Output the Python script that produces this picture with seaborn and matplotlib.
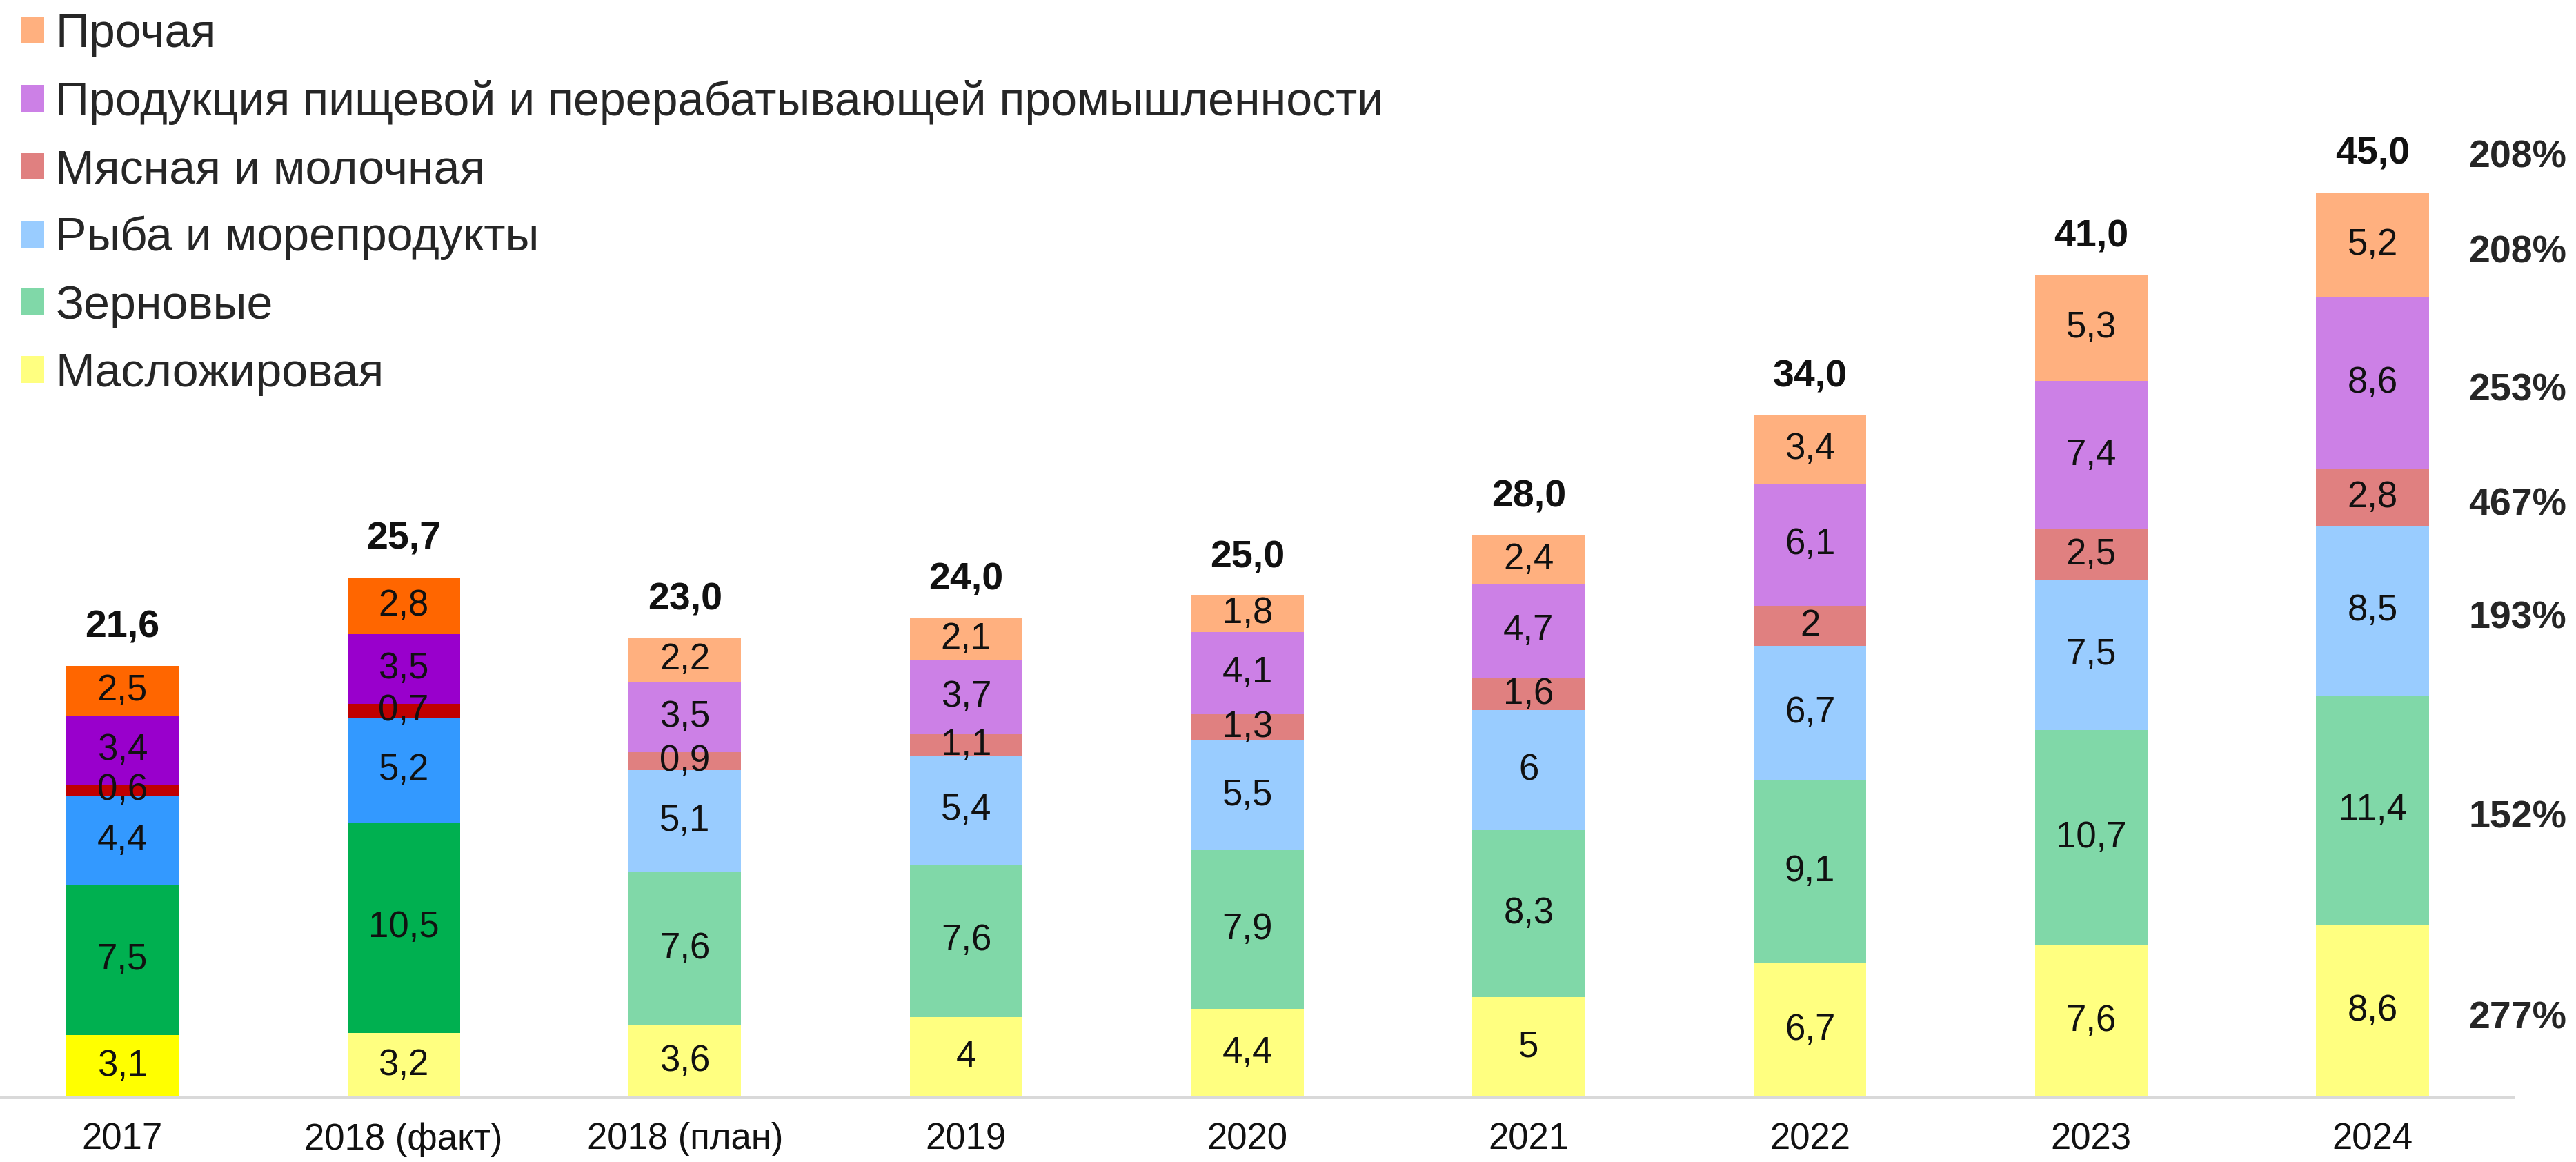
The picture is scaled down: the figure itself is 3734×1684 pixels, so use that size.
import numpy as np
import matplotlib
matplotlib.use("Agg")
import matplotlib.pyplot as plt
import seaborn as sns
from matplotlib.patches import Patch

# данные (млрд долл.)
years = ["2017", "2018 (факт)", "2018 (план)", "2019", "2020", "2021", "2022", "2023", "2024"]
series_names = ["Масложировая", "Зерновые", "Рыба и морепродукты", "Мясная и молочная",
                "Продукция пищевой и перерабатывающей промышленности", "Прочая"]
maslo = [3.1, 3.2, 3.6, 4, 4.4, 5, 6.7, 7.6, 8.6]
zerno = [7.5, 10.5, 7.6, 7.6, 7.9, 8.3, 9.1, 10.7, 11.4]
ryba = [4.4, 5.2, 5.1, 5.4, 5.5, 6, 6.7, 7.5, 8.5]
myaso = [0.6, 0.7, 0.9, 1.1, 1.3, 1.6, 2, 2.5, 2.8]
pischevaya = [3.4, 3.5, 3.5, 3.7, 4.1, 4.7, 6.1, 7.4, 8.6]
prochaya = [2.5, 2.8, 2.2, 2.1, 1.8, 2.4, 3.4, 5.3, 5.2]
totals = [21.6, 25.7, 23.0, 24.0, 25.0, 28.0, 34.0, 41.0, 45.0]
growth = ["277%", "152%", "193%", "467%", "253%", "208%"]
growth_total = "208%"

series_values = [maslo, zerno, ryba, myaso, pischevaya, prochaya]

# цвета: пастельные (план) и яркие (факт)
pastel = ["#FFFF80", "#80D8A8", "#99CCFF", "#E08080", "#CC80E6", "#FFB07F"]
bright = ["#FFFF00", "#00B050", "#3399FF", "#C00000", "#9900CC", "#FF6600"]
bright_idx = [[0], [0, 1], [0, 1], [0, 1], [0, 1], [0, 1]]

sns.set_theme(style="white")
plt.rcParams['font.family'] = ['Liberation Sans', 'DejaVu Sans']

fig = plt.figure(figsize=(37.34, 16.84), dpi=100)
ax = fig.add_axes([0.0, 0.0558, 0.9756, 0.9442])

fmt = lambda v: f"{v:g}".replace(".", ",")

bottom = np.zeros(len(years))
mids_last = []
for j, vals in enumerate(series_values):
    vals = np.array(vals, dtype=float)
    sns.barplot(x=years, y=vals, bottom=bottom, color=pastel[j], width=0.4,
                saturation=1, errorbar=None, ax=ax)
    bars = ax.containers[-1]
    for i, patch in enumerate(bars):
        if i in bright_idx[j]:
            patch.set_facecolor(bright[j])
        patch.set_edgecolor("none")
        ax.text(i, bottom[i] + vals[i] / 2, fmt(vals[i]), ha='center', va='center',
                fontsize=38, color='#111111')
    mids_last.append(bottom[-1] + vals[-1] / 2)
    bottom += vals

# итоги над столбцами
for i, t in enumerate(totals):
    ax.text(i, bottom[i] + 1.9, f"{t:.1f}".replace(".", ","), ha='center', va='center',
            fontsize=40, fontweight='bold', color='#111111')

# прирост справа
xr = 8.69
for j, g in enumerate(growth):
    ax.text(xr, mids_last[j] - 0.4, g, ha='right', va='center', fontsize=40,
            fontweight='bold', clip_on=False)
ax.text(xr, bottom[-1] + 1.75, growth_total, ha='right', va='center', fontsize=40,
        fontweight='bold', clip_on=False)

ax.set_xlim(-0.435, 8.50)
ax.set_ylim(0, 54.7)
ax.set_yticks([])
ax.set_xlabel("")
ax.set_ylabel("")
ax.tick_params(axis='x', length=0, pad=26, labelsize=38, colors='#111111')
for s in ["left", "top", "right"]:
    ax.spines[s].set_visible(False)
ax.spines["bottom"].set_color("#D9D9D9")
ax.spines["bottom"].set_linewidth(2.5)

handles = [Patch(facecolor=pastel[j], edgecolor='none') for j in range(len(series_names))][::-1]
ax.legend(handles, series_names[::-1], loc='upper left',
          bbox_to_anchor=(30 / 3734, 1 - 18 / 1684), bbox_transform=fig.transFigure,
          frameon=False, fontsize=49, handlelength=0.5, handleheight=0.5,
          handletextpad=0.24, labelspacing=0.5, borderpad=0, borderaxespad=0)

fig.savefig("out.png", dpi=100)
